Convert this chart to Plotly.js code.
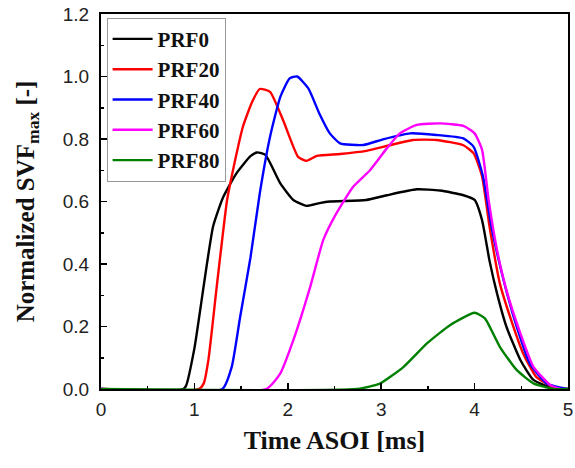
<!DOCTYPE html>
<html><head><meta charset="utf-8">
<script src="https://cdn.plot.ly/plotly-3.0.1.min.js"></script>
<style>html,body{margin:0;padding:0;background:#fff}#chart{width:575px;height:468px}</style>
</head><body><div id="chart"></div>
<script>
const seriesNames = ["PRF0", "PRF20", "PRF40", "PRF60", "PRF80"];
const seriesColors = ["#000000", "#ff0000", "#0000ff", "#ff00ff", "#008000"];

const prf0X = [0, 0.88, 0.91, 1.0, 1.2, 1.31, 1.45, 1.6, 1.67, 1.76, 1.92, 2.06, 2.2, 2.34, 2.45, 2.84, 3.06, 3.38, 3.63, 3.88, 4.0, 4.08, 4.16, 4.24, 4.34, 4.49, 4.63, 4.81, 4.95, 5.0];
const prf0Y = [0, 0, 0.01, 0.13, 0.52, 0.615, 0.69, 0.745, 0.757, 0.749, 0.658, 0.605, 0.586, 0.595, 0.6, 0.605, 0.62, 0.639, 0.635, 0.62, 0.605, 0.54, 0.41, 0.306, 0.2, 0.093, 0.029, 0.005, 0, 0];

const prf20X = [0, 1.05, 1.1, 1.15, 1.24, 1.35, 1.42, 1.52, 1.62, 1.7, 1.81, 1.95, 2.11, 2.2, 2.31, 2.56, 2.84, 3.09, 3.34, 3.59, 3.88, 3.99, 4.08, 4.16, 4.27, 4.38, 4.52, 4.66, 4.84, 4.95, 5.0];
const prf20Y = [0, 0, 0.018, 0.093, 0.33, 0.605, 0.71, 0.84, 0.92, 0.96, 0.951, 0.86, 0.743, 0.73, 0.746, 0.752, 0.762, 0.78, 0.797, 0.797, 0.78, 0.754, 0.68, 0.52, 0.338, 0.231, 0.114, 0.039, 0.007, 0, 0];

const prf40X = [0, 1.3, 1.4, 1.49, 1.6, 1.7, 1.81, 1.92, 2.02, 2.1, 2.22, 2.34, 2.45, 2.56, 2.81, 3.02, 3.31, 3.59, 3.88, 3.99, 4.09, 4.18, 4.31, 4.45, 4.59, 4.77, 4.91, 5.0];
const prf40Y = [0, 0, 0.071, 0.231, 0.42, 0.626, 0.807, 0.935, 0.994, 1.0, 0.962, 0.88, 0.818, 0.786, 0.781, 0.799, 0.818, 0.813, 0.802, 0.775, 0.68, 0.52, 0.349, 0.2, 0.082, 0.018, 0.005, 0];

const prf60X = [0, 1.77, 1.92, 2.06, 2.24, 2.38, 2.52, 2.7, 2.88, 3.06, 3.2, 3.38, 3.63, 3.88, 4.0, 4.08, 4.15, 4.24, 4.34, 4.49, 4.63, 4.81, 4.92, 5.0];
const prf60Y = [0, 0, 0.05, 0.157, 0.327, 0.477, 0.562, 0.647, 0.7, 0.77, 0.818, 0.845, 0.85, 0.842, 0.818, 0.765, 0.605, 0.445, 0.317, 0.178, 0.071, 0.013, 0, 0];

const prf80X = [0, 2.74, 2.99, 3.24, 3.49, 3.74, 4.0, 4.11, 4.27, 4.45, 4.63, 4.85, 5.0];
const prf80Y = [0, 0, 0.018, 0.071, 0.146, 0.205, 0.244, 0.226, 0.135, 0.061, 0.018, 0, 0];

const xs = [prf0X, prf20X, prf40X, prf60X, prf80X];
const ys = [prf0Y, prf20Y, prf40Y, prf60Y, prf80Y];

const traces = seriesNames.map((n, i) => ({
  x: xs[i], y: ys[i], name: n, type: 'scatter', mode: 'lines',
  line: {color: seriesColors[i], width: 2.4, shape: 'spline', smoothing: 0.5}
}));

const tickFont = {family: 'Liberation Sans, Arial, sans-serif', size: 19, color: '#222'};
const serif = 'Liberation Serif, Times New Roman, serif';

const layout = {
  width: 575, height: 468,
  margin: {l: 101, r: 7, t: 14, b: 79},
  paper_bgcolor: '#fff', plot_bgcolor: '#fff',
  showlegend: true,
  legend: {
    x: 0.012, y: 0.99, xanchor: 'left', yanchor: 'top',
    bgcolor: '#fff', bordercolor: '#999', borderwidth: 1,
    font: {family: serif, size: 21, color: '#111', weight: 'bold'},
    tracegroupgap: 0, itemwidth: 40
  },
  xaxis: {
    range: [0, 5], dtick: 1, tick0: 0,
    ticks: 'inside', ticklen: 6, tickwidth: 1.5, tickcolor: '#000',
    minor: {dtick: 0.5, ticks: 'inside', ticklen: 3, tickwidth: 1.5, tickcolor: '#000'},
    showline: true, linecolor: '#000', linewidth: 2, mirror: true,
    showgrid: false, zeroline: false,
    tickfont: tickFont, ticklabelstandoff: 2,
    title: {text: 'Time ASOI [ms]', font: {family: serif, size: 26, color: '#111', weight: 'bold'}, standoff: 12}
  },
  yaxis: {
    range: [0, 1.2], dtick: 0.2, tick0: 0, tickformat: '.1f',
    ticks: 'inside', ticklen: 6, tickwidth: 1.5, tickcolor: '#000',
    minor: {dtick: 0.1, ticks: 'inside', ticklen: 3, tickwidth: 1.5, tickcolor: '#000'},
    showline: true, linecolor: '#000', linewidth: 2, mirror: true,
    showgrid: false, zeroline: false,
    tickfont: tickFont, ticklabelstandoff: 6,
    title: {text: 'Normalized SVF<sub>max</sub> [-]', font: {family: serif, size: 25, color: '#111', weight: 'bold'}, standoff: 21}
  }
};

Plotly.newPlot('chart', traces, layout, {displayModeBar: false, staticPlot: true});
</script></body></html>
